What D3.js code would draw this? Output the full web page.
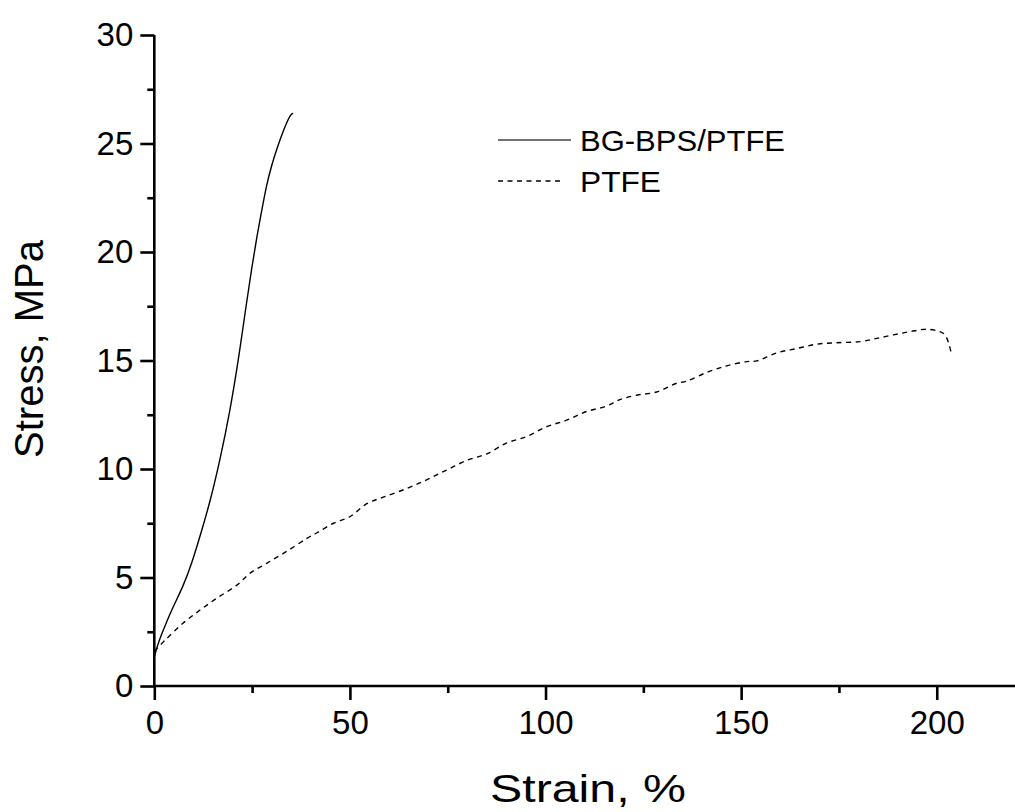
<!DOCTYPE html>
<html>
<head>
<meta charset="utf-8">
<script src="https://cdn.jsdelivr.net/npm/d3@7"></script>
<style>
  html, body { margin: 0; padding: 0; background: #fff; }
  svg { display: block; }
  text { font-family: Arial, "Liberation Sans", sans-serif; fill: #000; }
</style>
</head>
<body>
<svg id="chart" width="1015" height="812"></svg>
<script>
// ---- Data ----
const seriesNames = ["BG-BPS/PTFE", "PTFE"];

const bgStrain = [0, 1.2, 2.7, 4.4, 7.4, 9.6, 12.1, 14.2, 16.8, 19.4, 21.5, 23.6, 24.9, 26.2, 27.5, 28.7, 30.0, 31.3, 33.0, 34.3, 35.0, 35.5];
const bgStress = [1.35, 2.1, 2.75, 3.5, 4.6, 5.65, 7.15, 8.45, 10.41, 12.72, 15.02, 17.7, 19.25, 20.7, 21.95, 23.1, 24.0, 24.75, 25.6, 26.15, 26.35, 26.39];

const ptfeStrain = [0, 2.7, 7.4, 11.7, 16.0, 21.1, 24.5, 28.7, 33.8, 39.0, 41.5, 45.8, 50.0, 54.3, 58.5, 64.5, 69.6, 74.7, 79.9, 85.0, 90.1, 95.2, 100.3, 105.4, 110.5, 115.6, 119.0, 123.3, 128.4, 133.5, 136.1, 141.2, 146.3, 151.4, 154.0, 159.1, 164.2, 169.3, 174.4, 180.4, 184.7, 188.9, 193.2, 197.4, 200.8, 202.1, 203.2, 203.8];
const ptfeStress = [1.6, 2.1, 2.9, 3.5, 4.05, 4.65, 5.2, 5.65, 6.2, 6.8, 7.05, 7.5, 7.8, 8.4, 8.7, 9.1, 9.5, 9.95, 10.4, 10.7, 11.2, 11.5, 11.95, 12.25, 12.65, 12.9, 13.2, 13.4, 13.55, 13.95, 14.05, 14.45, 14.75, 14.95, 14.98, 15.35, 15.55, 15.75, 15.82, 15.87, 16.02, 16.18, 16.33, 16.44, 16.33, 16.18, 15.7, 15.25];

const xTicks = [0, 50, 100, 150, 200];
const yTicks = [0, 5, 10, 15, 20, 25, 30];
const xTitle = "Strain, %";
const yTitle = "Stress, MPa";

// ---- Layout ----
const svg = d3.select("#chart");
const x0 = 154.3, x1 = 1015, y0 = 686, y1 = 35;
const x = d3.scaleLinear().domain([0, 220]).range([x0, x1]);
const y = d3.scaleLinear().domain([0, 30]).range([y0, y1]);

// Axes
const xAxis = d3.axisBottom(x).tickValues(xTicks).tickSize(14).tickPadding(11).tickFormat(d3.format("d"));
const xMinor = d3.axisBottom(x).tickValues(d3.range(25, 220, 50)).tickSize(7).tickFormat("");
const yAxis = d3.axisLeft(y).tickValues(yTicks).tickSize(14).tickPadding(7).tickFormat(d3.format("d"));
const yMinor = d3.axisLeft(y).tickValues(d3.range(2.5, 30, 5)).tickSize(7).tickFormat("");

function styleAxis(g) {
  g.attr("font-family", "Arial, 'Liberation Sans', sans-serif").attr("font-size", 33);
  g.selectAll("path.domain").attr("stroke", "#000").attr("stroke-width", 2.6);
  g.selectAll(".tick line").attr("stroke", "#000").attr("stroke-width", 2.6);
  g.selectAll(".tick text").attr("fill", "#000");
}

const gxm = svg.append("g").attr("transform", `translate(0,${y0})`).call(xMinor);
styleAxis(gxm);
gxm.select("path.domain").remove();
const gx = svg.append("g").attr("transform", `translate(0,${y0})`).call(xAxis);
styleAxis(gx);
gx.select("path.domain").attr("d", `M${x0},0H${x1}`);

const gym = svg.append("g").attr("transform", `translate(${x0},0)`).call(yMinor);
styleAxis(gym);
gym.select("path.domain").remove();
const gy = svg.append("g").attr("transform", `translate(${x0},0)`).call(yAxis);
styleAxis(gy);
gy.select("path.domain").attr("d", `M0,${y0}V${y1}`);

// Titles
svg.append("text")
  .attr("x", 588).attr("y", 802)
  .attr("text-anchor", "middle")
  .attr("textLength", 196)
  .attr("lengthAdjust", "spacingAndGlyphs")
  .style("font-size", "39px")
  .text(xTitle);

svg.append("text")
  .attr("transform", "translate(43,349) rotate(-90)")
  .attr("text-anchor", "middle")
  .style("font-size", "40px")
  .text(yTitle);

// Lines
const bgData = bgStrain.map((s, i) => [s, bgStress[i]]);
const ptfeData = ptfeStrain.map((s, i) => [s, ptfeStress[i]]);

svg.append("path")
  .datum(bgData)
  .attr("fill", "none")
  .attr("stroke", "#000")
  .attr("stroke-width", 1.4)
  .attr("d", d3.line().x(d => x(d[0])).y(d => y(d[1])).curve(d3.curveBasis));

svg.append("path")
  .datum(ptfeData)
  .attr("fill", "none")
  .attr("stroke", "#000")
  .attr("stroke-width", 1.4)
  .attr("stroke-dasharray", "5,4.5")
  .attr("d", d3.line().x(d => x(d[0])).y(d => y(d[1])).curve(d3.curveCatmullRom.alpha(0.5)));

// Legend
const legend = svg.append("g");
const legendItems = [
  { name: seriesNames[0], dash: null, y: 140, x2: 571, len: 205 },
  { name: seriesNames[1], dash: "5,4.5", y: 181, x2: 563, len: 81 }
];
legendItems.forEach(it => {
  legend.append("line")
    .attr("x1", 498).attr("x2", it.x2)
    .attr("y1", it.y).attr("y2", it.y)
    .attr("stroke", it.dash ? "#000" : "#444")
    .attr("stroke-width", 1.4)
    .attr("stroke-dasharray", it.dash);
  legend.append("text")
    .attr("x", 580).attr("y", it.y + 11)
    .attr("textLength", it.len)
    .attr("lengthAdjust", "spacingAndGlyphs")
    .style("font-size", "29px")
    .text(it.name);
});
</script>
</body>
</html>
